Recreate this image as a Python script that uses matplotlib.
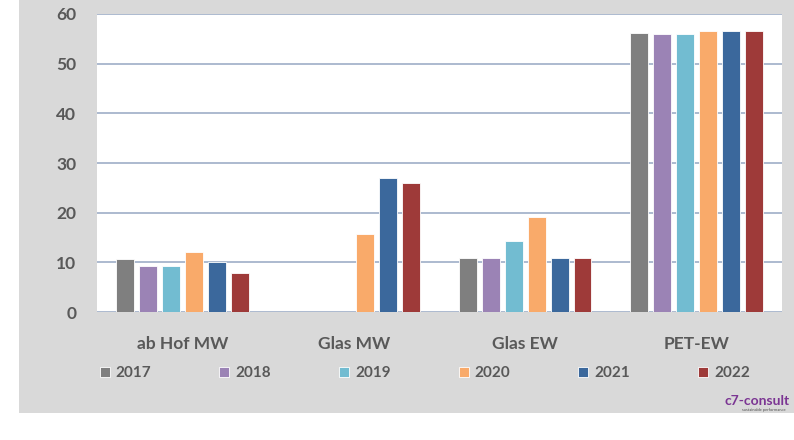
import matplotlib
matplotlib.use('Agg')
import matplotlib.pyplot as plt
import numpy as np
from matplotlib.patches import Rectangle

categories = ['ab Hof MW', 'Glas MW', 'Glas EW', 'PET-EW']
years = ['2017', '2018', '2019', '2020', '2021', '2022']
v2017 = [10.7, 0, 10.9, 56.1]
v2018 = [9.2, 0, 10.9, 56.0]
v2019 = [9.2, 0, 14.2, 56.0]
v2020 = [12.0, 15.8, 19.1, 56.5]
v2021 = [10.1, 26.9, 10.9, 56.6]
v2022 = [7.8, 25.9, 10.9, 56.5]
colors = ['#7f7f7f', '#9b83b5', '#72bcd1', '#f9aa6a', '#3b689c', '#9e3a39']

TXT = '#595959'
plt.rcParams['font.family'] = ['Lato', 'DejaVu Sans']

fig = plt.figure(figsize=(7.94, 4.40), dpi=100)
bg = Rectangle((19/794, 1 - 413/440), 1, 413/440, transform=fig.transFigure,
               facecolor='#d9d9d9', edgecolor='none', zorder=-1)
fig.add_artist(bg)
ax = fig.add_axes([97/794, 1 - 312/440, 685/794, 298/440])
ax.set_zorder(2)
ax.set_facecolor('white')

x = np.arange(len(categories))
pitch = 0.134
width = 0.105
series = [v2017, v2018, v2019, v2020, v2021, v2022]
for i, vals in enumerate(series):
    ax.bar(x + (i - 2.5) * pitch, vals, width, color=colors[i], label=years[i],
           edgecolor='#ffffff', linewidth=0.6, zorder=3)

ax.set_xlim(-0.5, 3.5)
ax.set_ylim(0, 60)
ax.set_yticks(range(0, 61, 10))
ax.yaxis.grid(True, color='#a6b4cc', linewidth=1.3)
ax.set_axisbelow(True)
for s in ax.spines.values():
    s.set_visible(False)
ax.tick_params(axis='both', length=0, colors=TXT, labelsize=12.5)
ax.tick_params(axis='y', pad=15)
ax.tick_params(axis='x', pad=17)
ax.set_xticks(x)
ax.set_xticklabels(categories, fontweight='bold')
for t in ax.get_yticklabels():
    t.set_fontweight('bold')

leg = ax.legend(ncol=6, loc='center left', bbox_to_anchor=(-0.016, -0.205), frameon=False,
                handlelength=0.65, handleheight=0.65, handletextpad=0.4,
                columnspacing=4.45, prop={'size': 11, 'weight': 'bold'})
for t in leg.get_texts():
    t.set_color(TXT)

fig.text(790/794, 1 - 401/440, 'c7-consult', color='#7b3593', fontsize=10,
         fontweight='bold', ha='right', va='center')
fig.text(786/794, 1 - 410/440, 'sustainable performance', color='#555555', fontsize=3,
         ha='right', va='center')

plt.savefig('out.png', dpi=100)
